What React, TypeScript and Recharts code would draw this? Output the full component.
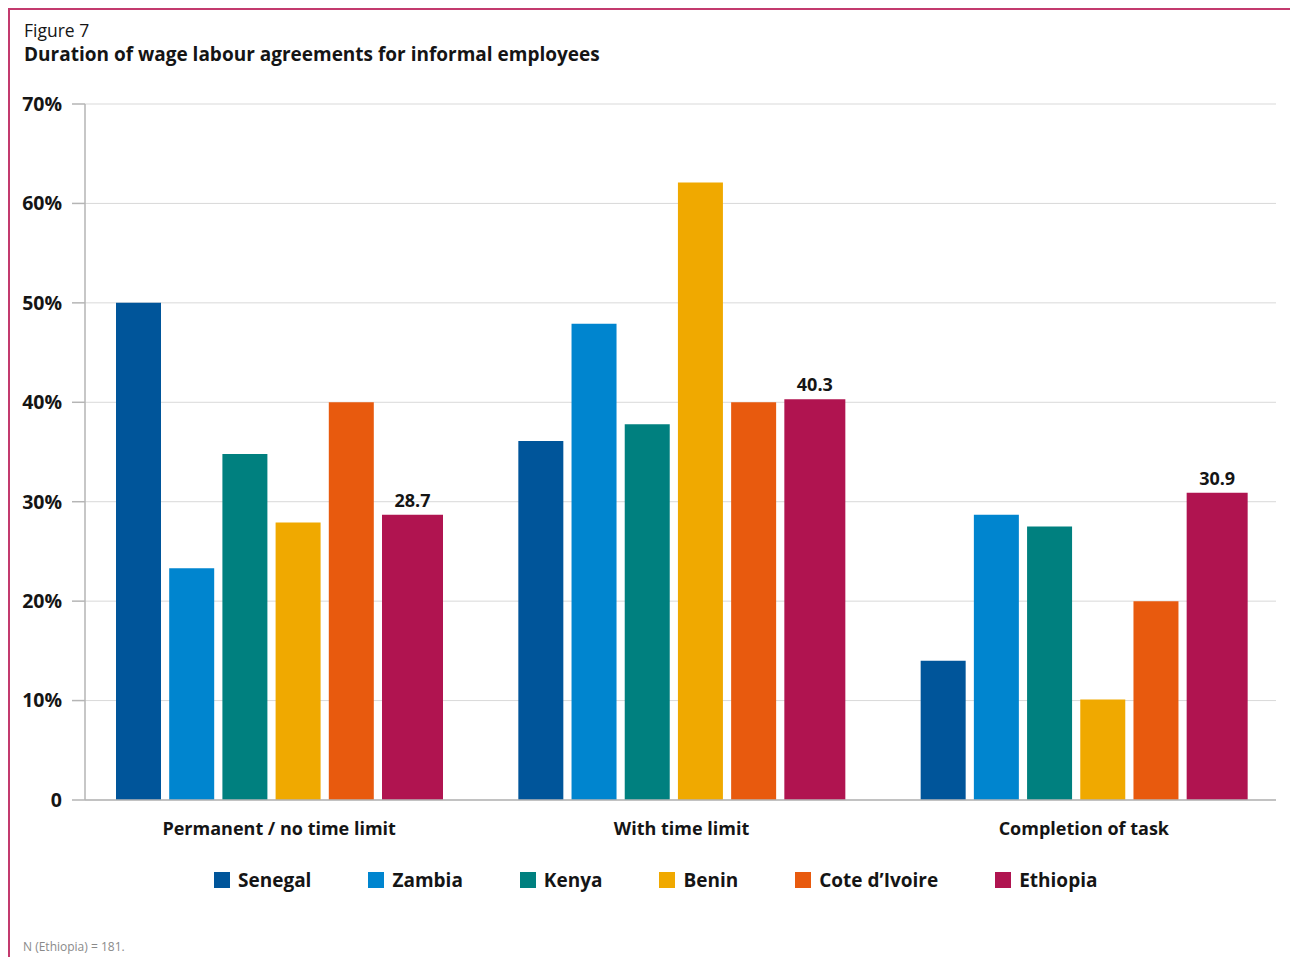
import { BarChart, Bar, XAxis, YAxis, CartesianGrid, LabelList } from 'recharts';

// values (percent)
const categories = ['Permanent / no time limit', 'With time limit', 'Completion of task'];
const senegal = [50.0, 36.1, 14.0];
const zambia = [23.3, 47.9, 28.7];
const kenya = [34.8, 37.8, 27.5];
const benin = [27.9, 62.1, 10.1];
const coteDIvoire = [40.0, 40.0, 20.0];
const ethiopia = [28.7, 40.3, 30.9];
const yTicks = [0, 10, 20, 30, 40, 50, 60, 70];

const series = [
  { key: 'senegal', name: 'Senegal', color: '#00559a', values: senegal },
  { key: 'zambia', name: 'Zambia', color: '#0085cf', values: zambia },
  { key: 'kenya', name: 'Kenya', color: '#00807f', values: kenya },
  { key: 'benin', name: 'Benin', color: '#f0a900', values: benin },
  { key: 'cote', name: 'Cote d\u2019Ivoire', color: '#e85a0e', values: coteDIvoire },
  { key: 'ethiopia', name: 'Ethiopia', color: '#b01450', values: ethiopia },
];

const data = categories.map((name, i) => {
  const row: Record<string, string | number> = { name };
  series.forEach((s) => {
    row[s.key] = s.values[i];
  });
  return row;
});

const FONT = '"Open Sans", "Noto Sans", sans-serif';
const TEXT = '#151515';
const BORDER = '#c33a6e';

export default function App() {
  return (
    <div
      style={{
        position: 'absolute',
        left: 0,
        top: 0,
        width: 1290,
        height: 957,
        background: '#fff',
        fontFamily: FONT,
        color: TEXT,
        overflow: 'hidden',
      }}
    >
      {/* frame lines */}
      <div style={{ position: 'absolute', left: 8, top: 8, width: 1282, height: 2, background: BORDER }} />
      <div style={{ position: 'absolute', left: 8, top: 8, width: 2, height: 949, background: BORDER }} />

      <div style={{ position: 'absolute', left: 24, top: 19, fontSize: 17.5, lineHeight: '22px' }}>Figure 7</div>
      <div style={{ position: 'absolute', left: 24, top: 42, fontSize: 19, fontWeight: 700, lineHeight: '24px' }}>
        Duration of wage labour agreements for informal employees
      </div>

      <div style={{ position: 'absolute', left: 0, top: 0 }}>
        <BarChart
          width={1290}
          height={850}
          data={data}
          margin={{ top: 104, right: 14, left: 25, bottom: 0 }}
          barGap={8.2}
          barCategoryGap={0}
        >
          <CartesianGrid vertical={false} stroke="#d9d9d9" />
          <XAxis
            dataKey="name"
            height={50}
            padding={{ left: -7, right: -9 }}
            tickLine={false}
            stroke="#b5b5b5"
            strokeWidth={1.5}
            tick={{ fill: TEXT, fontSize: 18, fontWeight: 700, fontFamily: FONT }}
            tickMargin={16}
          />
          <YAxis
            width={60}
            domain={[0, 70]}
            ticks={yTicks}
            interval={0}
            stroke="#b5b5b5"
            strokeWidth={1.5}
            tickSize={13}
            tickMargin={10}
            tickFormatter={(v: number) => (v === 0 ? '0' : `${v}%`)}
            tick={{ fill: TEXT, fontSize: 19.5, fontWeight: 700, fontFamily: FONT }}
          />
          {series.map((s) => (
            <Bar
              key={s.key}
              dataKey={s.key}
              name={s.name}
              fill={s.color}
              barSize={s.key === 'ethiopia' ? 61 : 45}
              isAnimationActive={false}
            >
              {s.key === 'ethiopia' && (
                <LabelList
                  dataKey={s.key}
                  position="top"
                  offset={8}
                  formatter={(v: number) => v.toFixed(1)}
                  style={{ fill: TEXT, fontSize: 18, fontWeight: 700, fontFamily: FONT }}
                />
              )}
            </Bar>
          ))}
        </BarChart>
      </div>

      {/* legend */}
      <div
        style={{
          position: 'absolute',
          left: 214,
          top: 866,
          display: 'flex',
          alignItems: 'center',
          gap: 57,
          fontSize: 19,
          fontWeight: 700,
          lineHeight: '28px',
        }}
      >
        {series.map((s) => (
          <div key={s.key} style={{ display: 'flex', alignItems: 'center' }}>
            <span style={{ display: 'inline-block', width: 16, height: 16, background: s.color, marginRight: 8 }} />
            <span>{s.name}</span>
          </div>
        ))}
      </div>

      <div style={{ position: 'absolute', left: 23, top: 938, fontSize: 12, color: '#8a8a8a', lineHeight: '18px' }}>
        N (Ethiopia) = 181.
      </div>
    </div>
  );
}
